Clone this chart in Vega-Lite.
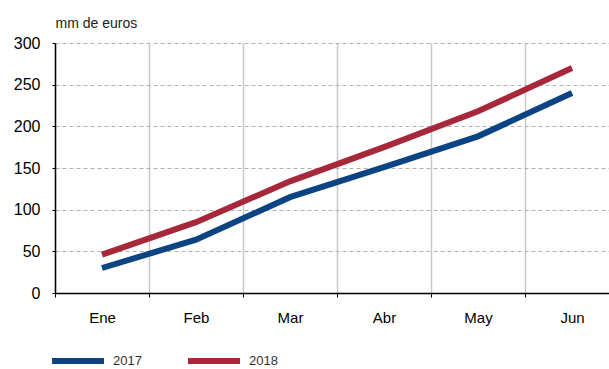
{
  "$schema": "https://vega.github.io/schema/vega-lite/v6.json",
  "autosize": {"type": "none"},
  "padding": {"left": 55, "top": 43, "right": 0, "bottom": 76},
  "width": 564,
  "height": 250,
  "config": {
    "view": {"stroke": null},
    "font": "Liberation Sans"
  },
  "data": {
    "values": [
      {"mes": "Ene", "serie": "2017", "valor": 30},
      {"mes": "Feb", "serie": "2017", "valor": 64},
      {"mes": "Mar", "serie": "2017", "valor": 115},
      {"mes": "Abr", "serie": "2017", "valor": 151},
      {"mes": "May", "serie": "2017", "valor": 188},
      {"mes": "Jun", "serie": "2017", "valor": 240},
      {"mes": "Ene", "serie": "2018", "valor": 46},
      {"mes": "Feb", "serie": "2018", "valor": 85},
      {"mes": "Mar", "serie": "2018", "valor": 134},
      {"mes": "Abr", "serie": "2018", "valor": 175},
      {"mes": "May", "serie": "2018", "valor": 218},
      {"mes": "Jun", "serie": "2018", "valor": 270}
    ]
  },
  "mark": {"type": "line", "strokeWidth": 6, "strokeCap": "butt"},
  "encoding": {
    "x": {
      "field": "mes",
      "type": "nominal",
      "sort": ["Ene", "Feb", "Mar", "Abr", "May", "Jun"],
      "scale": {"type": "band", "paddingInner": 0, "paddingOuter": 0},
      "axis": {
        "title": null,
        "labelAngle": 0,
        "tickBand": "extent",
        "grid": true,
        "gridColor": "#c8c8c8",
        "gridWidth": 1.5,
        "domainColor": "#000000",
        "domainWidth": 1.5,
        "tickColor": "#000000",
        "tickSize": 4,
        "labelFontSize": 15,
        "labelColor": "#000000",
        "labelPadding": 13
      }
    },
    "y": {
      "field": "valor",
      "type": "quantitative",
      "scale": {"domain": [0, 300], "nice": false},
      "axis": {
        "values": [0, 50, 100, 150, 200, 250, 300],
        "title": "mm de euros",
        "titleAngle": 0,
        "titleAlign": "left",
        "titleBaseline": "alphabetic",
        "titleX": 0,
        "titleY": -16,
        "titleFontSize": 14,
        "titleFontWeight": "normal",
        "titleColor": "#222222",
        "grid": true,
        "gridColor": "#b0b0b0",
        "gridDash": [4, 3],
        "gridWidth": 1,
        "domainColor": "#000000",
        "domainWidth": 1.5,
        "tickColor": "#000000",
        "tickSize": 3,
        "labelFontSize": 16,
        "labelColor": "#000000",
        "labelPadding": 12
      }
    },
    "color": {
      "field": "serie",
      "type": "nominal",
      "scale": {"domain": ["2017", "2018"], "range": ["#0b4383", "#a6283a"]},
      "legend": {
        "title": null,
        "orient": "none",
        "direction": "horizontal",
        "legendX": -6,
        "legendY": 289,
        "symbolType": "stroke",
        "symbolStrokeWidth": 6,
        "symbolSize": 2700,
        "labelFontSize": 13,
        "labelColor": "#333333",
        "labelOffset": 6,
        "columnPadding": 34
      }
    }
  }
}
